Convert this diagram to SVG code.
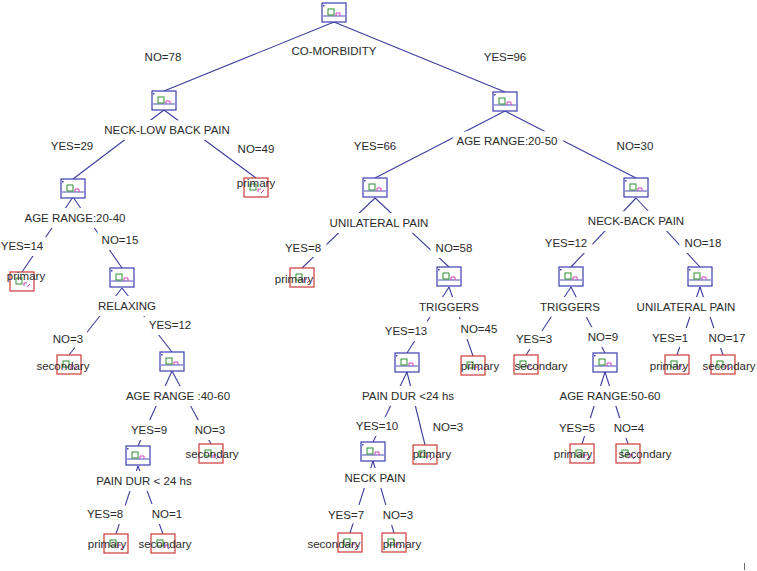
<svg xmlns="http://www.w3.org/2000/svg" xmlns:xlink="http://www.w3.org/1999/xlink" width="757" height="571" viewBox="0 0 757 571">
<style>
.t{font-family:"Liberation Sans",Arial,sans-serif;font-size:11.5px;fill:#2b2b2b;text-anchor:middle}
.h{stroke:#fff;stroke-width:12;stroke-linejoin:round;paint-order:stroke}
.ln{stroke:#3d3d9e;stroke-width:1.1;fill:none}
.bx{fill:#fff;stroke:#3c3cb0;stroke-width:1.2}
.lf{fill:none;stroke:#cc3a3a;stroke-width:1.2}
.gr{fill:none;stroke:#2f8f2f;stroke-width:1}
.pk{fill:none;stroke:#d040c0;stroke-width:1}
</style>
<defs>
<g id="inner">
<rect class="bx" x="-12" y="0" width="24" height="19"/>
<line x1="-11" y1="13" x2="11" y2="13" stroke="#3c3cb0" stroke-width="0.9"/>
<rect x="-11" y="2" width="1.5" height="1.5" fill="#3c3cb0"/>
<rect class="gr" x="-6" y="6" width="6" height="6"/>
<path class="pk" d="M2 13 v-3 h4 v3"/>
</g>
<g id="leaf">
<rect class="lf" x="-12" y="0" width="24" height="19"/>
<rect class="gr" x="-6" y="6" width="6" height="6"/>
<path class="pk" d="M2 14 v-3 h3 M5 15 l3 -3"/>
</g>
</defs>
<rect width="757" height="571" fill="#fff"/>
<g id="connectors">
<line class="ln" x1="334" y1="22" x2="164" y2="91"/>
<line class="ln" x1="334" y1="22" x2="505" y2="92"/>
<line class="ln" x1="164" y1="110" x2="73" y2="179"/>
<line class="ln" x1="164" y1="110" x2="256" y2="178"/>
<line class="ln" x1="505" y1="111" x2="375" y2="178"/>
<line class="ln" x1="505" y1="111" x2="636" y2="178"/>
<line class="ln" x1="73" y1="197" x2="22" y2="272"/>
<line class="ln" x1="73" y1="197" x2="122" y2="268"/>
<line class="ln" x1="375" y1="198" x2="302" y2="268"/>
<line class="ln" x1="375" y1="198" x2="449" y2="267"/>
<line class="ln" x1="636" y1="198" x2="571" y2="267"/>
<line class="ln" x1="636" y1="198" x2="700" y2="267"/>
<line class="ln" x1="122" y1="288" x2="69" y2="355"/>
<line class="ln" x1="122" y1="288" x2="172" y2="352"/>
<line class="ln" x1="449" y1="287" x2="407" y2="353"/>
<line class="ln" x1="449" y1="287" x2="473" y2="356"/>
<line class="ln" x1="571" y1="287" x2="526" y2="355"/>
<line class="ln" x1="571" y1="287" x2="605" y2="353"/>
<line class="ln" x1="700" y1="287" x2="677" y2="355"/>
<line class="ln" x1="700" y1="287" x2="723" y2="355"/>
<line class="ln" x1="172" y1="371" x2="138" y2="446"/>
<line class="ln" x1="172" y1="371" x2="211" y2="444"/>
<line class="ln" x1="407" y1="372" x2="373" y2="442"/>
<line class="ln" x1="407" y1="372" x2="425" y2="445"/>
<line class="ln" x1="605" y1="372" x2="582" y2="444"/>
<line class="ln" x1="605" y1="372" x2="628" y2="444"/>
<line class="ln" x1="138" y1="466" x2="116" y2="534"/>
<line class="ln" x1="138" y1="466" x2="163" y2="534"/>
<line class="ln" x1="373" y1="461" x2="350" y2="533"/>
<line class="ln" x1="373" y1="461" x2="394" y2="533"/>
<g class="t h">
<text x="163" y="61">NO=78</text><text x="505" y="61">YES=96</text>
<text x="72" y="150">YES=29</text><text x="256" y="153">NO=49</text>
<text x="375" y="150">YES=66</text><text x="635" y="150">NO=30</text>
<text x="22" y="250">YES=14</text><text x="120" y="244">NO=15</text>
<text x="303" y="252">YES=8</text><text x="454" y="252">NO=58</text>
<text x="566" y="247">YES=12</text><text x="703" y="247">NO=18</text>
<text x="68" y="343">NO=3</text><text x="170" y="329">YES=12</text>
<text x="406" y="335">YES=13</text><text x="479" y="333">NO=45</text>
<text x="534" y="343">YES=3</text><text x="603" y="341">NO=9</text>
<text x="670" y="342">YES=1</text><text x="727" y="342">NO=17</text>
<text x="149" y="434">YES=9</text><text x="210" y="434">NO=3</text>
<text x="377" y="430">YES=10</text><text x="448" y="431">NO=3</text>
<text x="577" y="432">YES=5</text><text x="629" y="432">NO=4</text>
<text x="105" y="518">YES=8</text><text x="167" y="518">NO=1</text>
<text x="346" y="519">YES=7</text><text x="398" y="519">NO=3</text>
</g>
</g>
<g id="n-root"><use xlink:href="#inner" x="334" y="3"/><text class="t h" x="334" y="55">CO-MORBIDITY</text></g>
<g id="n-necklow"><use xlink:href="#inner" x="164" y="91"/><text class="t h" x="167" y="134">NECK-LOW BACK PAIN</text></g>
<g id="n-age2050"><use xlink:href="#inner" x="505" y="92"/><text class="t h" x="507" y="145">AGE RANGE:20-50</text></g>
<g id="n-age2040"><use xlink:href="#inner" x="73" y="179"/><text class="t h" x="75" y="222">AGE RANGE:20-40</text></g>
<g id="n-unilat1"><use xlink:href="#inner" x="375" y="178"/><text class="t h" x="379" y="227">UNILATERAL PAIN</text></g>
<g id="n-neckback"><use xlink:href="#inner" x="636" y="178"/><text class="t h" x="636" y="225">NECK-BACK PAIN</text></g>
<g id="n-relaxing"><use xlink:href="#inner" x="122" y="268"/><text class="t h" x="127" y="310">RELAXING</text></g>
<g id="n-triggers1"><use xlink:href="#inner" x="449" y="267"/><text class="t h" x="449" y="311">TRIGGERS</text></g>
<g id="n-triggers2"><use xlink:href="#inner" x="571" y="267"/><text class="t h" x="570" y="311">TRIGGERS</text></g>
<g id="n-unilat2"><use xlink:href="#inner" x="700" y="267"/><text class="t h" x="686" y="311">UNILATERAL PAIN</text></g>
<g id="n-age4060"><use xlink:href="#inner" x="172" y="352"/><text class="t h" x="178" y="400">AGE RANGE :40-60</text></g>
<g id="n-paindur1"><use xlink:href="#inner" x="407" y="353"/><text class="t h" x="408" y="400">PAIN DUR &lt;24 hs</text></g>
<g id="n-age5060"><use xlink:href="#inner" x="605" y="353"/><text class="t h" x="610" y="400">AGE RANGE:50-60</text></g>
<g id="n-paindur2"><use xlink:href="#inner" x="138" y="446"/><text class="t h" x="144" y="485">PAIN DUR &lt; 24 hs</text></g>
<g id="n-neckpain"><use xlink:href="#inner" x="373" y="442"/><text class="t h" x="375" y="482">NECK PAIN</text></g>
<g id="l-1"><use xlink:href="#leaf" x="22" y="272"/><text class="t" x="26" y="280">primary</text></g>
<g id="l-2"><use xlink:href="#leaf" x="256" y="178"/><text class="t" x="256" y="187">primary</text></g>
<g id="l-3"><use xlink:href="#leaf" x="302" y="268"/><text class="t" x="294" y="283">primary</text></g>
<g id="l-4"><use xlink:href="#leaf" x="69" y="355"/><text class="t" x="63" y="370">secondary</text></g>
<g id="l-5"><use xlink:href="#leaf" x="473" y="356"/><text class="t" x="480" y="370">primary</text></g>
<g id="l-6"><use xlink:href="#leaf" x="526" y="355"/><text class="t" x="541" y="370">secondary</text></g>
<g id="l-7"><use xlink:href="#leaf" x="677" y="355"/><text class="t" x="669" y="370">primary</text></g>
<g id="l-8"><use xlink:href="#leaf" x="723" y="355"/><text class="t" x="729" y="370">secondary</text></g>
<g id="l-9"><use xlink:href="#leaf" x="211" y="444"/><text class="t" x="212" y="458">secondary</text></g>
<g id="l-10"><use xlink:href="#leaf" x="425" y="445"/><text class="t" x="432" y="458">primary</text></g>
<g id="l-11"><use xlink:href="#leaf" x="582" y="444"/><text class="t" x="573" y="458">primary</text></g>
<g id="l-12"><use xlink:href="#leaf" x="628" y="444"/><text class="t" x="645" y="458">secondary</text></g>
<g id="l-13"><use xlink:href="#leaf" x="116" y="534"/><text class="t" x="107" y="548">primary</text></g>
<g id="l-14"><use xlink:href="#leaf" x="163" y="534"/><text class="t" x="165" y="548">secondary</text></g>
<g id="l-15"><use xlink:href="#leaf" x="350" y="533"/><text class="t" x="334" y="548">secondary</text></g>
<g id="l-16"><use xlink:href="#leaf" x="394" y="533"/><text class="t" x="402" y="548">primary</text></g>
<line x1="744.5" y1="563" x2="744.5" y2="570" stroke="#666" stroke-width="1"/>
</svg>
